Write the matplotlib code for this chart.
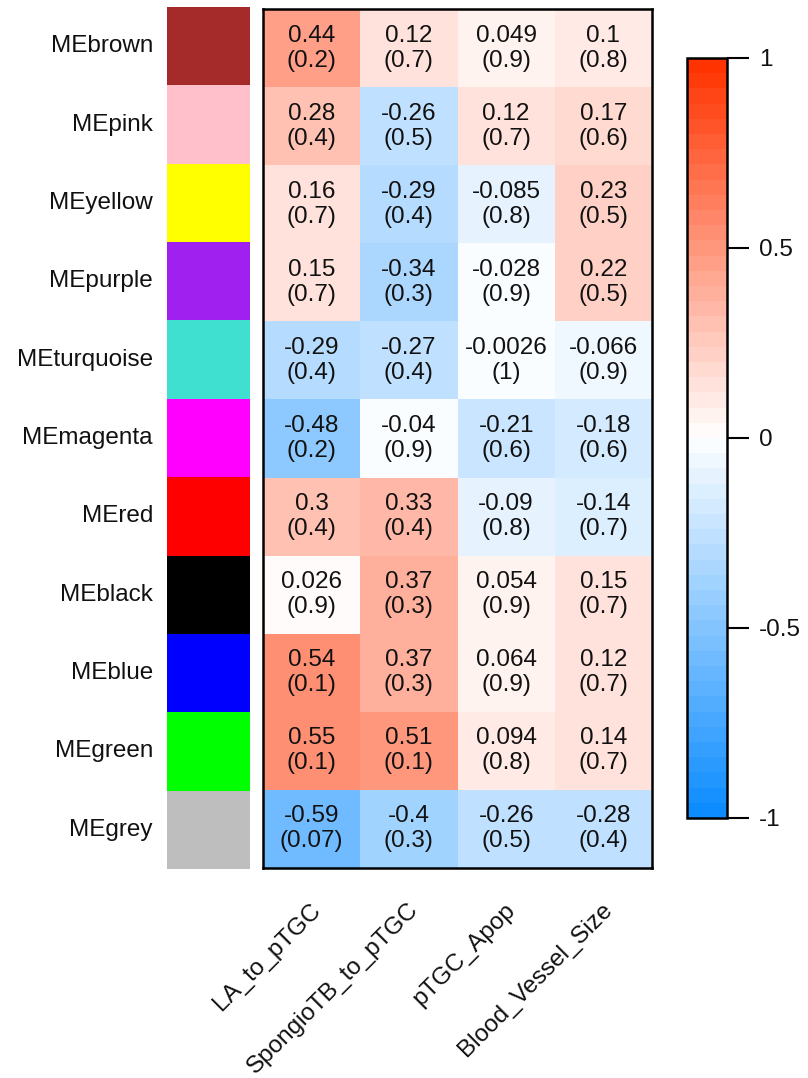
import numpy as np
import matplotlib
matplotlib.use("Agg")
import matplotlib.pyplot as plt
from matplotlib.colors import LinearSegmentedColormap
from matplotlib.transforms import blended_transform_factory

plt.rcParams['font.family'] = ['Liberation Sans', 'DejaVu Sans']

modules = ["MEbrown", "MEpink", "MEyellow", "MEpurple", "MEturquoise", "MEmagenta",
           "MEred", "MEblack", "MEblue", "MEgreen", "MEgrey"]
module_colors = ["#A52A2A", "#FFC0CB", "#FFFF00", "#A020F0", "#40E0D0", "#FF00FF",
                 "#FF0000", "#000000", "#0000FF", "#00FF00", "#BEBEBE"]
traits = ["LA_to_pTGC", "SpongioTB_to_pTGC", "pTGC_Apop", "Blood_Vessel_Size"]

corr_LA = [0.44, 0.28, 0.16, 0.15, -0.29, -0.48, 0.3, 0.026, 0.54, 0.55, -0.59]
corr_Spongio = [0.12, -0.26, -0.29, -0.34, -0.27, -0.04, 0.33, 0.37, 0.37, 0.51, -0.4]
corr_Apop = [0.049, 0.12, -0.085, -0.028, -0.0026, -0.21, -0.09, 0.054, 0.064, 0.094, -0.26]
corr_BV = [0.1, 0.17, 0.23, 0.22, -0.066, -0.18, -0.14, 0.15, 0.12, 0.14, -0.28]

p_LA = [0.2, 0.4, 0.7, 0.7, 0.4, 0.2, 0.4, 0.9, 0.1, 0.1, 0.07]
p_Spongio = [0.7, 0.5, 0.4, 0.3, 0.4, 0.9, 0.4, 0.3, 0.3, 0.1, 0.3]
p_Apop = [0.9, 0.7, 0.8, 0.9, 1, 0.6, 0.8, 0.9, 0.9, 0.8, 0.5]
p_BV = [0.8, 0.6, 0.5, 0.5, 0.9, 0.6, 0.7, 0.7, 0.7, 0.7, 0.4]

corr = np.array([corr_LA, corr_Spongio, corr_Apop, corr_BV]).T
pval = np.array([p_LA, p_Spongio, p_Apop, p_BV]).T

cmap = LinearSegmentedColormap.from_list(
    "bwr_wgcna", [(0.05, 0.55, 1.0), (1, 1, 1), (1.0, 0.2, 0.0)], N=50)

W, H = 808, 1078
fig = plt.figure(figsize=(W / 100, H / 100), dpi=100)

def fx(px):
    return px / W

def fy(py):
    return 1 - py / H

FS = 17.5
TC = "#111111"
top, bot = 9, 868
# heatmap
ax = fig.add_axes([fx(263), fy(bot), fx(652) - fx(263), fy(top) - fy(bot)])
nr, nc = corr.shape
im = ax.pcolormesh(np.arange(nc + 1), np.arange(nr + 1), corr, cmap=cmap, vmin=-1, vmax=1)
ax.set_xlim(0, nc)
ax.set_ylim(nr, 0)
ax.set_xticks([])
ax.set_yticks([])
for s in ax.spines.values():
    s.set_linewidth(1.8)
    s.set_color("black")
for i in range(nr):
    for j in range(nc):
        ax.text(j + 0.5, i + 0.5, f"{corr[i, j]:.2g}\n({pval[i, j]:.2g})",
                ha="center", va="center", fontsize=FS, linespacing=1.18, color=TC)

trans = blended_transform_factory(ax.transData, ax.transAxes)
for j, t in enumerate(traits):
    ax.text(j + 0.5 + 0.06, -0.045, t, rotation=45, rotation_mode="anchor",
            ha="right", va="center", fontsize=FS, transform=trans, color=TC)

# module colour squares
axc = fig.add_axes([fx(167), fy(869), fx(250) - fx(167), fy(7) - fy(869)])
axc.barh(np.arange(nr) + 0.5, 1, height=1.0, left=0, color=module_colors, edgecolor="none")
axc.set_xlim(0, 1)
axc.set_ylim(nr, 0)
axc.axis("off")
for i, m in enumerate(modules):
    axc.text(-0.17, i + 0.5, m, ha="right", va="center", fontsize=FS, color=TC)

# colorbar
cax = fig.add_axes([fx(687), fy(818), fx(727) - fx(687), fy(58) - fy(818)])
cb = fig.colorbar(im, cax=cax, ticks=[-1, -0.5, 0, 0.5, 1])
cb.set_ticklabels(["-1", "-0.5", "0", "0.5", "1"])
cb.outline.set_linewidth(1.8)
cax.tick_params(length=16, width=1.5, labelsize=FS, pad=7, colors="black", labelcolor=TC)

fig.savefig("out.png", dpi=100)
